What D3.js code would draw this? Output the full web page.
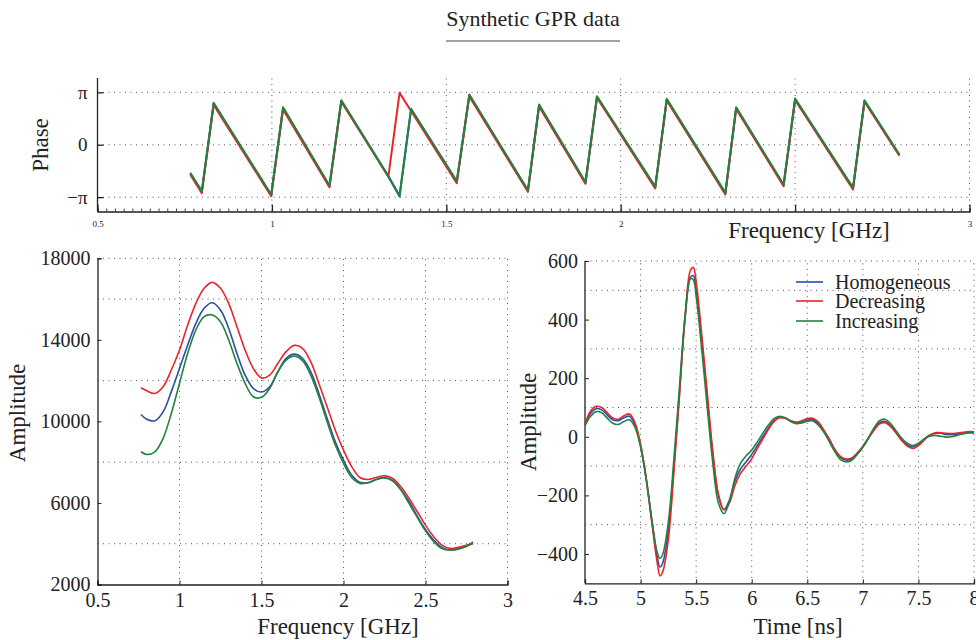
<!DOCTYPE html>
<html><head><meta charset="utf-8">
<script src="https://cdn.jsdelivr.net/npm/d3@7"></script>
<style>
body{margin:0;background:#fff;}
text{font-family:"Liberation Serif","DejaVu Serif",serif;fill:#222;}
</style></head>
<body><svg id="c" width="976" height="640"></svg>
<script>
// ---------- DATA ----------
const seriesNames = ["Homogeneous","Decreasing","Increasing"];
const seriesColors = ["#2a4ea6","#e8262a","#23823f"];

// Phase (wrapped), vertices of sawtooth
const phaseFreq = [0.766,0.799,0.833,0.998,1.032,1.165,1.199,1.334,1.366,1.399,1.530,1.566,1.734,1.766,1.899,1.932,2.099,2.132,2.300,2.331,2.467,2.500,2.666,2.699,2.799];
const phaseHomog = [-1.72,-2.83,2.46,-3.03,2.20,-2.49,2.62,-1.92,-3.10,2.11,-2.23,2.96,-2.77,2.36,-2.29,2.86,-2.56,2.70,-2.92,2.20,-2.43,2.72,-2.62,2.62,-0.62];
const phaseDecr  = [-1.78,-2.90,2.38,-3.08,2.12,-2.55,2.58,-1.90,3.11,2.02,-2.30,2.90,-2.82,2.30,-2.34,2.82,-2.62,2.66,-2.98,2.14,-2.48,2.68,-2.68,2.58,-0.66];
const phaseIncr  = [-1.68,-2.78,2.51,-2.98,2.25,-2.44,2.67,-1.88,-3.04,2.16,-2.18,3.01,-2.72,2.41,-2.24,2.91,-2.51,2.75,-2.87,2.25,-2.38,2.77,-2.57,2.67,-0.58];

// Amplitude spectrum
const ampFreq = [0.765,0.8,0.85,0.9,0.95,1.0,1.05,1.1,1.15,1.2,1.25,1.3,1.35,1.4,1.45,1.5,1.55,1.6,1.65,1.7,1.75,1.8,1.85,1.9,1.95,2.0,2.05,2.1,2.15,2.2,2.25,2.3,2.35,2.4,2.45,2.5,2.55,2.6,2.65,2.7,2.75,2.79];
const ampHomog = [10340,10110,10030,10470,11460,12600,13750,14810,15550,15820,15460,14560,13340,12270,11620,11440,11700,12440,13090,13300,13090,12440,11370,10150,9000,8100,7370,7010,6990,7150,7230,7090,6660,6060,5350,4700,4180,3820,3700,3770,3880,4010];
const ampDecr  = [11650,11500,11370,11700,12520,13500,14730,15790,16530,16820,16530,15790,14650,13500,12600,12130,12270,12850,13420,13730,13580,12930,11860,10720,9570,8590,7780,7250,7150,7250,7330,7200,6790,6220,5570,4910,4340,3930,3770,3820,3930,4040];
const ampIncr  = [8510,8380,8510,9170,10390,11870,13340,14490,15140,15220,14890,13990,12850,11870,11210,11180,11620,12440,13010,13200,12980,12270,11210,9980,8840,7940,7250,6960,6990,7150,7250,7090,6630,5970,5290,4630,4100,3770,3690,3730,3880,4090];

// Time-domain trace
const time = [4.5,4.55,4.6,4.65,4.7,4.75,4.8,4.85,4.9,4.95,5.0,5.05,5.1,5.15,5.175,5.2,5.25,5.3,5.35,5.4,5.45,5.475,5.5,5.55,5.6,5.65,5.7,5.75,5.8,5.85,5.9,5.95,6.0,6.05,6.1,6.15,6.2,6.25,6.3,6.35,6.4,6.45,6.5,6.55,6.6,6.65,6.7,6.75,6.8,6.85,6.9,6.95,7.0,7.05,7.1,7.15,7.2,7.25,7.3,7.35,7.4,7.45,7.5,7.55,7.6,7.65,7.7,7.75,7.8,7.85,7.9,7.95,8.0];
const traceHomog = [40,80,96,92,75,58,55,65,70,40,-30,-140,-280,-410,-445,-430,-320,-100,150,400,545,550,500,330,130,-60,-200,-248,-215,-150,-110,-85,-60,-30,0,30,55,66,65,55,48,50,57,58,45,20,-10,-45,-70,-80,-75,-58,-35,-5,25,48,52,38,15,-10,-28,-35,-25,-8,5,12,12,8,7,9,12,15,15];
const traceDecr  = [42,88,104,100,82,64,60,72,78,48,-25,-140,-290,-430,-475,-460,-350,-120,140,410,570,578,530,350,150,-50,-195,-250,-225,-165,-125,-100,-75,-40,-8,25,52,65,63,55,50,55,62,63,50,22,-10,-45,-68,-76,-72,-55,-32,-5,22,44,48,35,12,-13,-32,-40,-30,-12,5,14,14,12,11,13,15,18,17];
const traceIncr  = [38,70,86,82,64,46,42,52,58,32,-35,-145,-280,-395,-415,-400,-290,-75,170,410,540,535,480,300,100,-90,-225,-262,-220,-140,-90,-65,-45,-18,12,40,62,70,65,52,45,47,53,54,40,15,-18,-52,-78,-86,-80,-60,-35,-3,30,55,60,45,20,-5,-22,-30,-22,-8,2,5,2,-1,0,5,10,13,13];

const phaseTickVals = [-Math.PI, 0, Math.PI];
const phaseTickLabels = ["\u2212\u03c0","0","\u03c0"];
const freqTicks = [0.5,1,1.5,2,2.5,3];
const phaseFreqLabels = [0.5,1,1.5,2,3];   // 2.5 hidden under the axis title in the original
const ampTicks = [2000,6000,10000,14000,18000];
const ampGrid = [4000,8000,12000,16000,18000];
const timeTicks = [4.5,5,5.5,6,6.5,7,7.5,8];
const traceTicks = [-400,-200,0,200,400,600];
const traceGrid = [-300,-100,100,300,500,600];

// ---------- DRAW ----------
const svg = d3.select("#c");
const GRIDC = "#555", DASH = "1,4.5";
const TICKF = 20, LABF = 23;

function hgrid(g, x, y, vals){
  vals.forEach(v=>g.append("line").attr("x1",x.range()[0]).attr("x2",x.range()[1])
    .attr("y1",y(v)).attr("y2",y(v)).attr("stroke",GRIDC).attr("stroke-width",1).attr("stroke-dasharray",DASH));
}
function vgrid(g, x, y, vals){
  vals.forEach(v=>g.append("line").attr("x1",x(v)).attr("x2",x(v))
    .attr("y1",y.range()[0]).attr("y2",y.range()[1]).attr("stroke",GRIDC).attr("stroke-width",1).attr("stroke-dasharray",DASH));
}

// Title
svg.append("text").attr("x",533).attr("y",26).attr("text-anchor","middle").attr("font-size",22).text("Synthetic GPR data");
svg.append("line").attr("x1",446).attr("x2",620).attr("y1",41).attr("y2",41).attr("stroke","#444").attr("stroke-width",1);

// ---- Top: phase ----
{
  const x = d3.scaleLinear().domain([0.5,3]).range([97.5,969.5]);
  const y = d3.scaleLinear().domain([-4,4]).range([211.5,78]);
  const g = svg.append("g");
  hgrid(g,x,y,phaseTickVals);
  vgrid(g,x,y,[1,1.5,2,2.5,3]);
  g.append("g").attr("transform","translate(0,211.5)")
    .call(d3.axisBottom(x).tickValues(d3.range(0.5,3.0001,0.025)).tickSize(-3).tickFormat(""))
    .call(a=>{a.select(".domain").attr("stroke","#222").attr("stroke-width",1.3);a.selectAll(".tick line").attr("stroke","#444");});
  g.append("g").attr("transform","translate(0,211.5)")
    .call(d3.axisBottom(x).tickValues(freqTicks).tickSize(-7).tickPadding(9).tickFormat(d=>phaseFreqLabels.includes(d)?d:""))
    .call(a=>{a.select(".domain").remove();a.selectAll(".tick line").attr("stroke","#222").attr("stroke-width",1.3);
      a.selectAll("text").attr("font-size",9).attr("font-family","Liberation Serif");});
  g.append("g").attr("transform","translate(97.5,0)")
    .call(d3.axisLeft(y).tickValues(phaseTickVals).tickSize(-6).tickPadding(10).tickFormat((d,i)=>phaseTickLabels[i]))
    .call(a=>{a.select(".domain").attr("stroke","#222").attr("stroke-width",1.3).attr("d","M0,78V211.5");
      a.selectAll(".tick line").attr("stroke","#222").attr("stroke-width",1.3);
      a.selectAll("text").attr("font-size",19).attr("font-family","Liberation Serif");});
  const line = d3.line().x((d,i)=>x(phaseFreq[i])).y(d=>y(d));
  [[phaseHomog,0],[phaseDecr,1],[phaseIncr,2]].forEach(([s,k])=>{
    g.append("path").attr("d",line(s)).attr("fill","none").attr("stroke",seriesColors[k]).attr("stroke-width",2).attr("stroke-linejoin","round");
  });
  svg.append("text").attr("x",809).attr("y",238).attr("text-anchor","middle").attr("font-size",LABF).text("Frequency [GHz]");
  svg.append("text").attr("transform","translate(48,145) rotate(-90)").attr("text-anchor","middle").attr("font-size",LABF).text("Phase");
}

// ---- Bottom-left: amplitude spectrum ----
{
  const x = d3.scaleLinear().domain([0.5,3]).range([97.5,507.5]);
  const y = d3.scaleLinear().domain([2000,18000]).range([584.5,258.3]);
  const g = svg.append("g");
  hgrid(g,x,y,ampGrid);
  vgrid(g,x,y,[1,1.5,2,2.5,3]);
  g.append("g").attr("transform","translate(0,584.5)")
    .call(d3.axisBottom(x).tickValues(freqTicks).tickSize(-4).tickPadding(8).tickFormat(d=>d))
    .call(a=>{a.select(".domain").attr("stroke","#222").attr("stroke-width",1.3);a.selectAll(".tick line").attr("stroke","#222");
      a.selectAll("text").attr("font-size",TICKF).attr("font-family","Liberation Serif");});
  g.append("g").attr("transform","translate(97.5,0)")
    .call(d3.axisLeft(y).tickValues(ampTicks).tickSize(-4).tickPadding(7).tickFormat(d=>d))
    .call(a=>{a.select(".domain").attr("stroke","#222").attr("stroke-width",1.3);a.selectAll(".tick line").attr("stroke","#222");
      a.selectAll("text").attr("font-size",TICKF).attr("font-family","Liberation Serif");});
  const line = d3.line().x((d,i)=>x(ampFreq[i])).y(d=>y(d)).curve(d3.curveCatmullRom);
  [[ampHomog,0],[ampDecr,1],[ampIncr,2]].forEach(([s,k])=>{
    g.append("path").attr("d",line(s)).attr("fill","none").attr("stroke",seriesColors[k]).attr("stroke-width",1.6);
  });
  svg.append("text").attr("x",338).attr("y",634).attr("text-anchor","middle").attr("font-size",LABF).text("Frequency [GHz]");
  svg.append("text").attr("transform","translate(25,413) rotate(-90)").attr("text-anchor","middle").attr("font-size",LABF).text("Amplitude");
}

// ---- Bottom-right: time trace ----
{
  const x = d3.scaleLinear().domain([4.5,8]).range([585,974]);
  const y = d3.scaleLinear().domain([-500,600]).range([583.3,261]);
  const g = svg.append("g");
  hgrid(g,x,y,traceGrid);
  vgrid(g,x,y,[5,5.5,6,6.5,7,7.5,8]);
  g.append("g").attr("transform","translate(0,583.3)")
    .call(d3.axisBottom(x).tickValues(timeTicks).tickSize(-4).tickPadding(8).tickFormat(d=>d))
    .call(a=>{a.select(".domain").attr("stroke","#222").attr("stroke-width",1.3);a.selectAll(".tick line").attr("stroke","#222");
      a.selectAll("text").attr("font-size",TICKF).attr("font-family","Liberation Serif");});
  g.append("g").attr("transform","translate(585,0)")
    .call(d3.axisLeft(y).tickValues(traceTicks).tickSize(-4).tickPadding(7).tickFormat(d=>d<0?"\u2212"+Math.abs(d):d))
    .call(a=>{a.select(".domain").attr("stroke","#222").attr("stroke-width",1.3).attr("d","M0,261V583.3");a.selectAll(".tick line").attr("stroke","#222");
      a.selectAll("text").attr("font-size",TICKF).attr("font-family","Liberation Serif");});
  const line = d3.line().x((d,i)=>x(time[i])).y(d=>y(d)).curve(d3.curveCatmullRom);
  [[traceHomog,0],[traceDecr,1],[traceIncr,2]].forEach(([s,k])=>{
    g.append("path").attr("d",line(s)).attr("fill","none").attr("stroke",seriesColors[k]).attr("stroke-width",1.6);
  });
  const ly = [282,301,321];
  seriesNames.forEach((n,i)=>{
    svg.append("line").attr("x1",796).attr("x2",823).attr("y1",ly[i]).attr("y2",ly[i]).attr("stroke",seriesColors[i]).attr("stroke-width",1.6);
    svg.append("text").attr("x",835).attr("y",ly[i]).attr("dy","0.35em").attr("font-size",20).text(n);
  });
  svg.append("text").attr("x",798).attr("y",634).attr("text-anchor","middle").attr("font-size",LABF).text("Time [ns]");
  svg.append("text").attr("transform","translate(536,422) rotate(-90)").attr("text-anchor","middle").attr("font-size",LABF).text("Amplitude");
}
</script></body></html>
